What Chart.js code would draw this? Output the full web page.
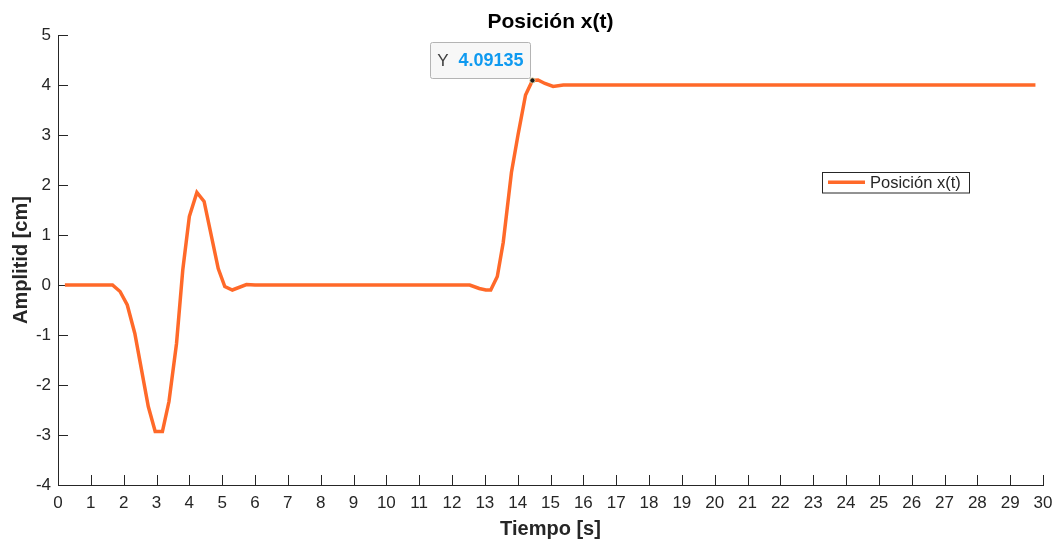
<!DOCTYPE html>
<html>
<head>
<meta charset="utf-8">
<title>Posición x(t)</title>
<script src="https://cdn.jsdelivr.net/npm/chart.js@4.4.1/dist/chart.umd.min.js"></script>
<style>
  html, body { margin: 0; padding: 0; background: #fff; }
</style>
</head>
<body>
<canvas id="posChart" width="1056" height="541"></canvas>
<script>
const timeValues = [0.21, 0.5, 1.0, 1.44, 1.66, 1.89, 2.11, 2.34, 2.75, 2.96, 3.18, 3.38, 3.61, 3.80, 4.00,
    4.23, 4.45, 4.88, 5.08, 5.31, 5.74, 6.0, 7.0, 8.0, 9.0, 10.0, 11.0, 12.0, 12.54, 12.83, 13.03, 13.18,
    13.38, 13.56, 13.81, 14.01, 14.24, 14.45, 14.62, 14.83, 15.08, 15.39, 16.0, 18.0, 20.0, 22.0, 24.0,
    26.0, 28.0, 29.77];
const positionValues = [0, 0, 0, 0, 0, -0.13, -0.40, -0.97, -2.43, -2.93, -2.93, -2.33, -1.17, 0.30, 1.37,
    1.85, 1.67, 0.33, -0.03, -0.10, 0.01, 0, 0, 0, 0, 0, 0, 0, 0, -0.07, -0.10, -0.10,
    0.17, 0.85, 2.25, 3.00, 3.80, 4.09135, 4.10, 4.03, 3.97, 4.0, 4.0, 4.0, 4.0, 4.0, 4.0,
    4.0, 4.0, 4.0];
const xTickValues = [0, 1, 2, 3, 4, 5, 6, 7, 8, 9, 10, 11, 12, 13, 14, 15, 16, 17, 18, 19, 20,
    21, 22, 23, 24, 25, 26, 27, 28, 29, 30];
const yTickValues = [-4, -3, -2, -1, 0, 1, 2, 3, 4, 5];
const tipIndex = 37; // punto marcado con el data tip (14.45 s)

const FONT = '"Liberation Sans", Arial, sans-serif';
const AXIS = "#262626";
const ORANGE = "#ff6929";

Chart.defaults.font.family = FONT;

// ticks hacia adentro, como en MATLAB
const inwardTicks = {
    id: "inwardTicks",
    beforeDatasetsDraw(chart) {
        const ctx = chart.ctx;
        const xs = chart.scales.x, ys = chart.scales.y;
        const area = chart.chartArea;
        ctx.save();
        ctx.strokeStyle = AXIS;
        ctx.lineWidth = 1;
        ctx.beginPath();
        xs.ticks.forEach(t => {
            let px = Math.round(xs.getPixelForValue(t.value)) + 0.5;
            ctx.moveTo(px, area.bottom);
            ctx.lineTo(px, area.bottom - 10);
        });
        ys.ticks.forEach(t => {
            let py = Math.round(ys.getPixelForValue(t.value)) + 0.5;
            ctx.moveTo(area.left, py);
            ctx.lineTo(area.left + 10, py);
        });
        ctx.stroke();
        ctx.restore();
    }
};

const dataTip = {
    id: "dataTip",
    afterDatasetsDraw(chart) {
        const ctx = chart.ctx;
        const pt = chart.getDatasetMeta(0).data[tipIndex];
        if (!pt) return;
        const label = "Y ";
        const value = String(positionValues[tipIndex]);
        ctx.save();
        ctx.font = "17px " + FONT;
        const wLabel = ctx.measureText(label).width;
        ctx.font = "bold 18px " + FONT;
        const wValue = ctx.measureText(value).width;
        const w = 7 + wLabel + 5 + wValue + 7;
        const h = 36;
        const x0 = pt.x - 2 - w, y0 = pt.y - 2 - h;
        ctx.fillStyle = "#f7f7f7";
        ctx.strokeStyle = "#b4b4b4";
        ctx.lineWidth = 1;
        ctx.beginPath();
        ctx.roundRect(Math.round(x0) + 0.5, Math.round(y0) + 0.5, Math.round(w), h, 2);
        ctx.fill();
        ctx.stroke();
        ctx.textBaseline = "middle";
        ctx.textAlign = "left";
        ctx.font = "17px " + FONT;
        ctx.fillStyle = "#404040";
        ctx.fillText(label, x0 + 7, y0 + h / 2 + 1);
        ctx.font = "bold 18px " + FONT;
        ctx.fillStyle = "#0f9af0";
        ctx.fillText(value, x0 + 7 + wLabel + 5, y0 + h / 2 + 1);
        // marcador
        ctx.beginPath();
        ctx.arc(pt.x, pt.y, 2.6, 0, Math.PI * 2);
        ctx.fillStyle = "#1a1a1a";
        ctx.fill();
        ctx.strokeStyle = "#f4e7b0";
        ctx.lineWidth = 0.8;
        ctx.stroke();
        ctx.restore();
    }
};

const boxLegend = {
    id: "boxLegend",
    afterDraw(chart) {
        const ctx = chart.ctx;
        const area = chart.chartArea;
        const ds = chart.data.datasets[0];
        const x0 = area.right - 221, y0 = area.top + 137;
        ctx.save();
        ctx.font = "16.5px " + FONT;
        const w = 6 + 37 + 5 + ctx.measureText(ds.label).width + 8;
        const h = 20.5;
        ctx.fillStyle = "#fff";
        ctx.strokeStyle = AXIS;
        ctx.lineWidth = 1;
        ctx.fillRect(x0, y0, w, h);
        ctx.strokeRect(Math.round(x0) + 0.5, Math.round(y0) + 0.5, Math.round(w), h);
        ctx.strokeStyle = ds.borderColor;
        ctx.lineWidth = ds.borderWidth;
        ctx.beginPath();
        ctx.moveTo(x0 + 6, y0 + h / 2);
        ctx.lineTo(x0 + 43, y0 + h / 2);
        ctx.stroke();
        ctx.fillStyle = AXIS;
        ctx.textBaseline = "middle";
        ctx.fillText(ds.label, x0 + 48, y0 + h / 2 + 1);
        ctx.restore();
    }
};

new Chart(document.getElementById("posChart").getContext("2d"), {
    type: "line",
    data: {
        datasets: [{
            label: "Posición x(t)",
            data: timeValues.map((t, i) => ({ x: t, y: positionValues[i] })),
            borderColor: ORANGE,
            backgroundColor: ORANGE,
            borderWidth: 3.5,
            pointRadius: 0,
            tension: 0,
            fill: false
        }]
    },
    options: {
        responsive: false,
        devicePixelRatio: 1,
        animation: false,
        layout: { padding: { left: 0, right: 13, top: 0, bottom: 0 } },
        plugins: {
            legend: { display: false },
            tooltip: { enabled: false },
            title: {
                display: true,
                fullSize: false,
                text: "Posición x(t)",
                color: "#000",
                font: { size: 21, weight: "bold", lineHeight: 1 },
                padding: { top: 12, bottom: 2 }
            }
        },
        scales: {
            x: {
                type: "linear",
                min: 0,
                max: 30,
                afterBuildTicks: s => { s.ticks = xTickValues.map(v => ({ value: v })); },
                afterFit: s => { s.height = 56; s.paddingLeft = 0; s.paddingRight = 0; },
                grid: { drawOnChartArea: false, drawTicks: false },
                border: { display: true, color: AXIS, width: 1 },
                ticks: { color: AXIS, font: { size: 17 }, padding: 8, maxRotation: 0, autoSkip: false },
                title: {
                    display: true, text: "Tiempo [s]", color: AXIS,
                    font: { size: 20, weight: "bold" }, padding: { top: 0, bottom: 0 }
                }
            },
            y: {
                min: -4,
                max: 5,
                afterBuildTicks: s => { s.ticks = yTickValues.map(v => ({ value: v })); },
                afterFit: s => { s.width = 58; s.paddingTop = 0; s.paddingBottom = 0; },
                grid: { drawOnChartArea: false, drawTicks: false },
                border: { display: true, color: AXIS, width: 1 },
                ticks: { color: AXIS, font: { size: 17 }, padding: 7 },
                title: {
                    display: true, text: "Amplitid [cm]", color: AXIS,
                    font: { size: 20, weight: "bold" }, padding: { top: 9, bottom: 0 }
                }
            }
        }
    },
    plugins: [inwardTicks, dataTip, boxLegend]
});
</script>
</body>
</html>
